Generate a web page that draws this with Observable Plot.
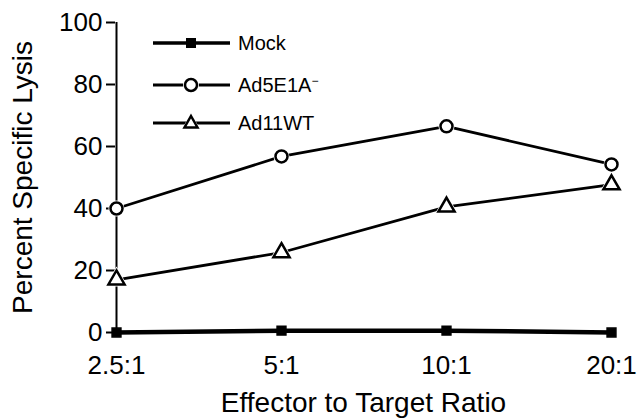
<!DOCTYPE html>
<html><head><meta charset="utf-8">
<script src="https://cdn.jsdelivr.net/npm/d3@7"></script>
<script src="https://cdn.jsdelivr.net/npm/@observablehq/plot@0.6"></script>
<style>
body{margin:0;background:#fff;font-family:"Liberation Sans",Arial,sans-serif;}
#wrap{position:relative;width:639px;height:419px;}
#legend{position:absolute;left:151px;top:29px;font-size:20px;color:#000;}
.row{position:absolute;left:0;display:flex;align-items:center;white-space:nowrap;}
.row span{margin-left:8px;}
sup{font-size:12px;vertical-align:7px;}
</style></head><body>
<div id="wrap"><div id="legend"></div></div>
<script>
const ratios = ["2.5:1","5:1","10:1","20:1"];
const mock = [0, 0.6, 0.6, 0];
const ad5 = [40, 56.8, 66.5, 54.2];
const ad11 = [17, 25.8, 40.5, 47.7];
const yTicks = [0,20,40,60,80,100];
const seriesNames = ["Mock","Ad5E1A","Ad11WT"];

const rows = (vals, s) => ratios.map((r,i)=>({ratio:r, value:vals[i], series:s}));
const dMock = rows(mock,"Mock"), dAd5 = rows(ad5,"Ad5E1A"), dAd11 = rows(ad11,"Ad11WT");

const plot = Plot.plot({
  width:639, height:419,
  marginLeft:115, marginRight:28, marginTop:22, marginBottom:87,
  style:{fontFamily:"Liberation Sans, Arial, sans-serif", color:"#000", background:"#fff"},
  x:{type:"point", domain:ratios, padding:0},
  y:{domain:[0,100]},
  marks:[
    Plot.axisY(yTicks,{tickSize:9, tickPadding:4, strokeWidth:2, fontSize:26, label:null}),
    Plot.axisX({tickSize:0, tickPadding:23, fontSize:26, label:null}),
    Plot.ruleX([ratios[0]],{y1:0, y2:100, strokeWidth:2}),
    Plot.text(["Percent Specific Lysis"],{frameAnchor:"left", textAnchor:"middle", lineAnchor:"middle", rotate:-90, dx:-92, fontSize:28}),
    Plot.text(["Effector to Target Ratio"],{frameAnchor:"bottom", textAnchor:"middle", lineAnchor:"middle", dy:71, fontSize:28}),
    Plot.line(dMock,{x:"ratio", y:"value", strokeWidth:4.5}),
    Plot.line(dAd5,{x:"ratio", y:"value", strokeWidth:2.8}),
    Plot.line(dAd11,{x:"ratio", y:"value", strokeWidth:2.8}),
    Plot.dot(dAd5,{x:"ratio", y:"value", symbol:"circle", r:8, fill:"white"}),
    Plot.dot(dAd11,{x:"ratio", y:"value", symbol:"triangle", r:8.5, fill:"white"}),
    Plot.dot(dMock,{x:"ratio", y:"value", symbol:"square", r:5, fill:"black", stroke:"black"}),
    Plot.dot(dAd5,{x:"ratio", y:"value", symbol:"circle", r:6, fill:"white", stroke:"black", strokeWidth:2.5}),
    Plot.dot(dAd11,{x:"ratio", y:"value", symbol:"triangle", r:6, fill:"white", stroke:"black", strokeWidth:2.5})
  ]
});
document.getElementById("wrap").prepend(plot);

const leg = document.getElementById("legend");
const tops = [0, 42, 80];
const syms = [
  '<rect x="35" y="-5" width="10" height="10" fill="black"/>',
  '<circle cx="40" cy="0" r="8" fill="white"/><circle cx="40" cy="0" r="6" fill="white" stroke="black" stroke-width="2.5"/>',
  '<path d="M40,-10 L49,6 L31,6 Z" fill="white"/><path d="M40,-7 L46.5,4.5 L33.5,4.5 Z" fill="white" stroke="black" stroke-width="2.5"/>'
];
const widths = [3.5,2.8,2.8];
seriesNames.forEach((n,i)=>{
  const row = document.createElement("div");
  row.className="row"; row.style.top = tops[i]+"px";
  row.innerHTML = `<svg width="79" height="28" viewBox="0 -14 79 28"><line x1="2" x2="79" y1="0" y2="0" stroke="black" stroke-width="${widths[i]}"/>${syms[i]}</svg><span>${n==="Ad5E1A"?'Ad5E1A<sup>−</sup>':n}</span>`;
  leg.appendChild(row);
});
</script>
</body></html>
